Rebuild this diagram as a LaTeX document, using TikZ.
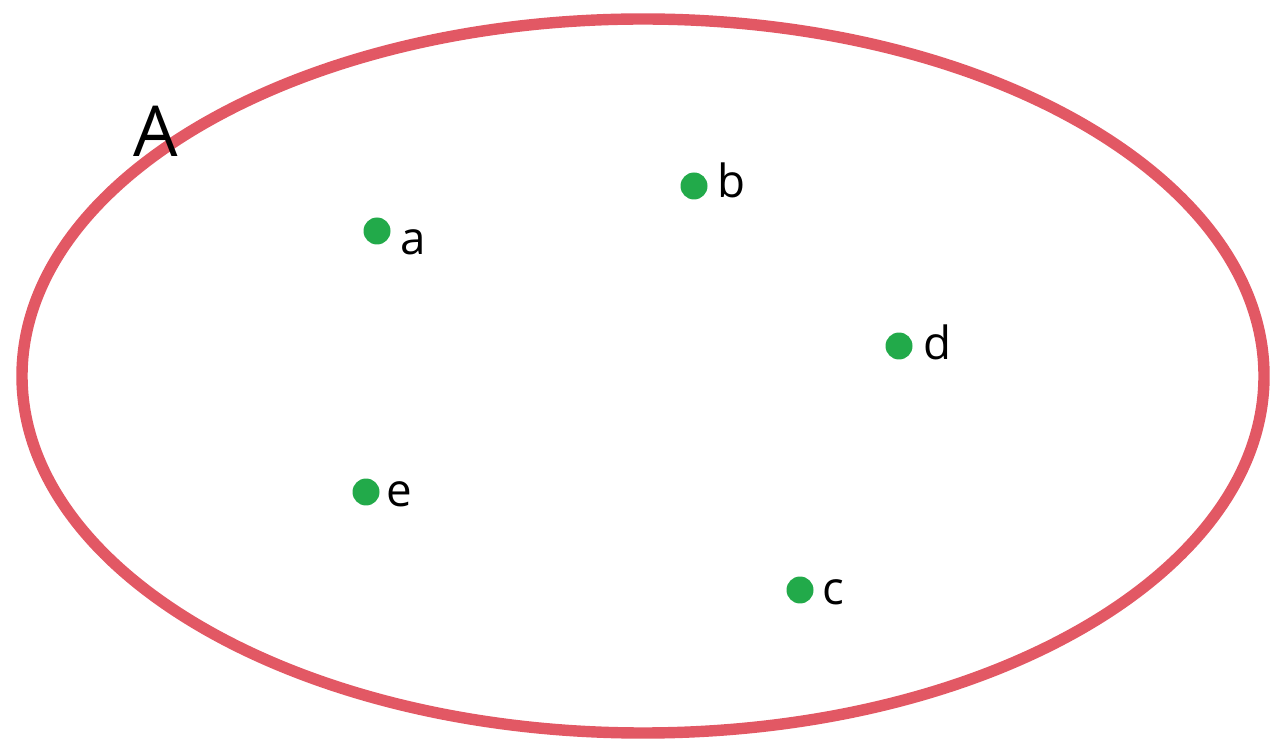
\documentclass[tikz,border=0pt]{standalone}
\usepackage{fontspec}
\setmainfont{Open Sans}
\usetikzlibrary{positioning}
\definecolor{setred}{RGB}{226,88,100}
\definecolor{ptgreen}{RGB}{34,170,74}
\begin{document}
\begin{tikzpicture}[x=0.02cm, y=-0.02cm]
% set A with its elements
\tikzset{
  elem/.style={circle, fill=ptgreen, inner sep=0pt, minimum size=0.54cm},
  elemlbl/.style={anchor=base west, inner sep=0pt, font=\fontsize{26}{30}\selectfont},
}
\useasboundingbox (0,0) rectangle (1271,749);
\draw[setred, line width=6.5pt] (643,376) ellipse [x radius=621, y radius=357];
\node[anchor=base west, inner sep=0pt, font=\fontsize{40}{46}\selectfont] (setA) at (133,157) {A};
% points
\node[elem] (a) at (377,231) {};
\node[elem] (b) at (694,186) {};
\node[elem] (d) at (899,346) {};
\node[elem] (e) at (366,492) {};
\node[elem] (c) at (800,590) {};
% labels
\node[elemlbl] (la) at (400,255) {a};
\node[elemlbl] (lb) at (717,198) {b};
\node[elemlbl] (ld) at (923,360) {d};
\node[elemlbl] (le) at (386,507) {e};
\node[elemlbl] (lc) at (822,604) {c};
\end{tikzpicture}
\end{document}
